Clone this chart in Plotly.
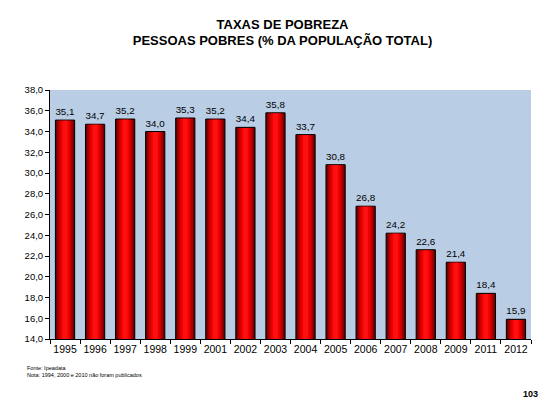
import plotly.graph_objects as go

anos = ["1995", "1996", "1997", "1998", "1999", "2001", "2002", "2003",
        "2004", "2005", "2006", "2007", "2008", "2009", "2011", "2012"]
pobres = [35.1, 34.7, 35.2, 34.0, 35.3, 35.2, 34.4, 35.8,
          33.7, 30.8, 26.8, 24.2, 22.6, 21.4, 18.4, 15.9]
rotulos = [f"{v:.1f}".replace(".", ",") for v in pobres]
ticks_y = [14 + 2 * i for i in range(13)]
ticks_y_txt = [f"{v:.1f}".replace(".", ",") for v in ticks_y]

fig = go.Figure()
# base bar (dark edges) with outline and labels
fig.add_trace(go.Bar(
    x=anos, y=pobres, width=0.64,
    marker=dict(color="#6e0000", line=dict(color="black", width=1)),
    text=rotulos, textposition="outside", cliponaxis=False,
    textfont=dict(family="Liberation Sans, Arial", size=10.5, color="black"),
    hoverinfo="skip",
))
# inner layers to imitate the horizontal gradient
for w, c in [(0.52, "#a00000"), (0.40, "#d00000"), (0.28, "#f00000"), (0.16, "#ff1010")]:
    fig.add_trace(go.Bar(
        x=anos, y=[v - 0.06 for v in pobres], width=w,
        marker=dict(color=c, line=dict(width=0)), hoverinfo="skip",
    ))

fig.update_layout(
    width=549, height=411,
    barmode="overlay", showlegend=False,
    paper_bgcolor="white", plot_bgcolor="#b9cde5",
    margin=dict(l=42, r=26, t=82, b=80, autoexpand=False),
    font=dict(family="Liberation Sans, Arial", size=10, color="black"),
    title=dict(text="<b>TAXAS DE POBREZA<br>PESSOAS POBRES (% DA POPULAÇÃO TOTAL)</b>",
               x=0.5, xanchor="center", y=0.95, yanchor="top",
               font=dict(family="Liberation Sans, Arial", size=13, color="black")),
    xaxis=dict(type="category", showline=True, linecolor="black", linewidth=1,
               ticks="outside", tickson="boundaries", ticklen=4, tickcolor="black",
               showgrid=False, tickangle=0, automargin=False,
               tickfont=dict(size=10.5)),
    yaxis=dict(range=[14, 38], tickvals=ticks_y, ticktext=ticks_y_txt,
               showline=True, linecolor="black", linewidth=1,
               ticks="outside", ticklen=4, tickcolor="black", automargin=False,
               showgrid=False, zeroline=False, tickfont=dict(size=9.5)),
    annotations=[
        dict(text="Fonte: Ipeadata<br>Nota: 1994, 2000 e 2010 não foram publicados",
             xref="paper", yref="paper", x=-0.052, y=-0.095, xanchor="left", yanchor="top",
             align="left", showarrow=False,
             font=dict(family="Liberation Sans, Arial", size=5.5, color="black")),
        dict(text="<b>103</b>", xref="paper", yref="paper", x=1.019, y=-0.193,
             xanchor="right", yanchor="top", showarrow=False,
             font=dict(family="Liberation Sans, Arial", size=9, color="black")),
    ],
)

fig.write_html("out.html")
